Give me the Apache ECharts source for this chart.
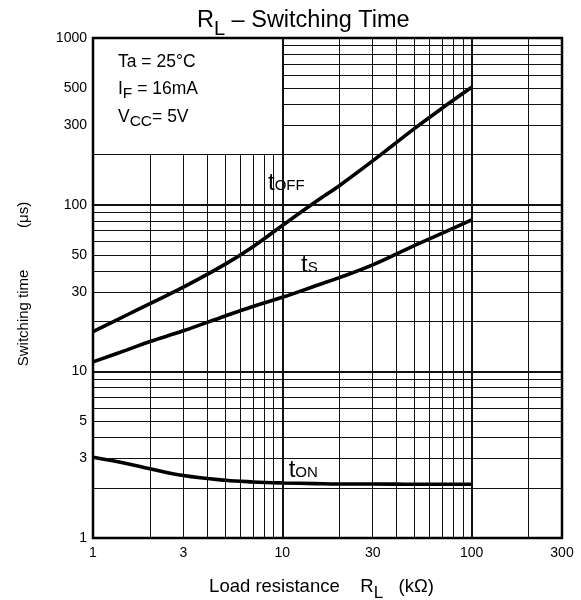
<!DOCTYPE html>
<html><head><meta charset="utf-8">
<script src="https://cdn.jsdelivr.net/npm/echarts@6/dist/echarts.min.js"></script>
<style>html,body{margin:0;padding:0;background:#fff}#c{width:581px;height:600px}</style>
</head><body><div id="c"></div>
<script>
// ---- data ----
const xValues = [1, 1.5, 2, 3, 5, 7, 10, 15, 20, 30, 50, 70, 100];
const tOff = [17.3, 21.7, 25.5, 32, 44, 56, 75, 104, 130, 183, 287, 380, 506];
const tS   = [11.4, 13.4, 15.1, 17.5, 21.5, 24.5, 27.8, 32.6, 36.5, 43.5, 57, 67.5, 81];
const tOn  = [3.05, 2.80, 2.60, 2.37, 2.22, 2.17, 2.14, 2.12, 2.11, 2.11, 2.10, 2.10, 2.10];

const xTickLabels = [1, 3, 10, 30, 100, 300];
const yTickLabels = [1, 3, 5, 10, 30, 50, 100, 300, 500, 1000];
const xGrid = [2,3,4,5,6,7,8,9,10,20,30,40,50,60,70,80,90,100,200];
const yGrid = [2,3,4,5,6,7,8,9,10,20,30,40,50,60,70,80,90,100,200,300,400,500,600,700,800,900];
const majorGrid = [10, 100];
const xMin = 1, xMax = 300, yMin = 1, yMax = 1000;
const panelCorner = [10, 200]; // condition panel occupies x<10, y>200

// ---- build grid segments ----
const gridSegs = [];
xGrid.forEach(function (x) {
  const top = x < panelCorner[0] ? panelCorner[1] : yMax;
  gridSegs.push([{coord: [x, yMin], lineStyle: {width: majorGrid.indexOf(x) >= 0 ? 2 : 1}}, {coord: [x, top]}]);
});
yGrid.forEach(function (y) {
  const start = y > panelCorner[1] ? panelCorner[0] : xMin;
  gridSegs.push([{coord: [start, y], lineStyle: {width: majorGrid.indexOf(y) >= 0 ? 2 : 1}}, {coord: [xMax, y]}]);
});

function pairs(ys) { return xValues.map(function (x, i) { return [x, ys[i]]; }); }

const FONT = 'Liberation Sans';
const subRich = function (size, lh, pad) { return {fontSize: size, lineHeight: lh, padding: [pad, 0, 0, 0], color: '#000', fontFamily: FONT}; };

function curve(name, ys) {
  return {
    type: 'line', name: name, data: pairs(ys), showSymbol: false, symbol: 'none',
    smooth: 0.4, z: 3, silent: true,
    lineStyle: {color: '#000', width: 3.6}
  };
}
function curveLabel(sub, pos, pad) {
  return {
    type: 'scatter', data: [pos], symbolSize: 1, z: 2, silent: true,
    itemStyle: {color: '#fff', opacity: 1},
    label: {
      show: true, position: 'inside', formatter: '{t|t}{s|' + sub + '}',
      color: '#000', opacity: 1, textBorderWidth: 0,
      backgroundColor: '#fff', padding: pad,
      rich: {
        t: {fontSize: 24, lineHeight: 24, color: '#000', fontFamily: FONT},
        s: subRich(15, 24, 6)
      }
    }
  };
}

const chart = echarts.init(document.getElementById('c'), null, {renderer: 'canvas'});
chart.setOption({
  animation: false,
  textStyle: {fontFamily: FONT, color: '#000'},
  title: {
    text: 'R{s|L} – Switching Time', left: 197, top: 7, padding: 0,
    textStyle: {fontSize: 23.5, fontWeight: 'normal', color: '#000', lineHeight: 28, fontFamily: FONT,
      rich: {s: subRich(20, 28, 16)}}
  },
  grid: {left: 93, right: 19, top: 38, bottom: 62, outerBoundsMode: 'none', containLabel: false,
    show: true, borderColor: '#000', borderWidth: 2.5, backgroundColor: '#fff'},
  xAxis: {
    type: 'log', logBase: 10, min: xMin, max: xMax,
    axisLine: {show: false}, axisTick: {show: false}, splitLine: {show: false}, minorSplitLine: {show: false},
    axisLabel: {customValues: xTickLabels, fontSize: 14, color: '#000', margin: 8, formatter: function (v) { return String(v); }},
    name: 'Load resistance    R{s|L}   (kΩ)', nameLocation: 'middle', nameGap: 36,
    nameTextStyle: {fontSize: 18.5, color: '#000', lineHeight: 26, padding: [0, 12, 0, 0], rich: {s: subRich(17, 26, 13)}}
  },
  yAxis: {
    type: 'log', logBase: 10, min: yMin, max: yMax,
    axisLine: {show: false}, axisTick: {show: false}, splitLine: {show: false}, minorSplitLine: {show: false},
    axisLabel: {customValues: yTickLabels, fontSize: 14, color: '#000', margin: 6, formatter: function (v) { return String(v); }},
    name: 'Switching time          (μs)', nameLocation: 'middle', nameGap: 62,
    nameTextStyle: {fontSize: 15, color: '#000', padding: [0, 0, 0, 8]}
  },
  graphic: [{
    type: 'text', left: 118, top: 53, z: 10, silent: true,
    style: {
      text: '{n|Ta = 25°C}\n{n|I}{s|F}{n| = 16mA}\n{n|V}{s|CC}{n|= 5V}',
      fill: '#000',
      rich: {
        n: {fontSize: 17.5, lineHeight: 27.5, fill: '#000', fontFamily: FONT},
        s: {fontSize: 15.5, lineHeight: 27.5, padding: [9, 0, 0, 0], fill: '#000', fontFamily: FONT}
      }
    }
  }],
  series: [
    {type: 'line', name: 'grid', data: [], z: 1, silent: true,
     markLine: {silent: true, symbol: ['none', 'none'], animation: false,
       label: {show: false}, emphasis: {disabled: true},
       lineStyle: {color: '#111', type: 'solid', width: 1}, data: gridSegs}},
    curve('tOFF', tOff),
    curve('tS', tS),
    curve('tON', tOn),
    curveLabel('OFF', [10.5, 136], [4, 8, 3, 8]),
    curveLabel('S', [13.9, 43.5], [0, 5, 0, 5]),
    curveLabel('ON', [12.9, 2.55], [1, 15, 1, 15])
  ]
});
</script></body></html>
